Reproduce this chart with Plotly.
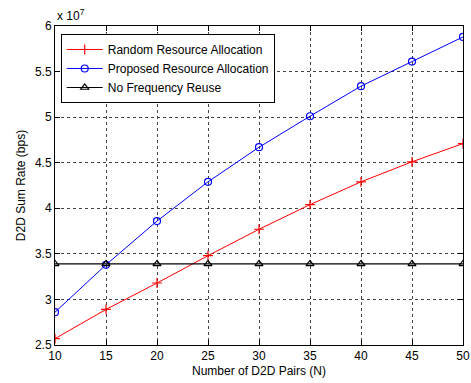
import plotly.graph_objects as go

pairs = [10, 15, 20, 25, 30, 35, 40, 45, 50]
random_alloc = [2.57, 2.89, 3.18, 3.48, 3.77, 4.04, 4.29, 4.51, 4.71]
proposed_alloc = [2.86, 3.38, 3.86, 4.29, 4.67, 5.01, 5.34, 5.61, 5.88]
no_reuse = [3.39] * 9
x_ticks = [10, 15, 20, 25, 30, 35, 40, 45, 50]
y_ticks = [2.5, 3, 3.5, 4, 4.5, 5, 5.5, 6]
y_tick_labels = ["2.5", "3", "3.5", "4", "4.5", "5", "5.5", "6"]

font = "Liberation Sans, Arial, sans-serif"
fig = go.Figure()
fig.add_trace(go.Scatter(x=pairs, y=random_alloc, mode="lines+markers", name="Random Resource Allocation",
                         line=dict(color="red", width=1),
                         marker=dict(symbol="cross-thin-open", size=7, line=dict(color="red", width=1.2))))
fig.add_trace(go.Scatter(x=pairs, y=proposed_alloc, mode="lines+markers", name="Proposed Resource Allocation",
                         line=dict(color="blue", width=1),
                         marker=dict(symbol="circle-open", size=7, color="blue", line=dict(width=1.2))))
fig.add_trace(go.Scatter(x=pairs, y=no_reuse, mode="lines+markers", name="No Frequency Reuse",
                         line=dict(color="black", width=1.2),
                         marker=dict(symbol="triangle-up-open", size=7, color="black", line=dict(width=1.2))))

axis_common = dict(showline=True, linecolor="black", linewidth=1, mirror="ticks",
                   showgrid=True, gridcolor="#444444", griddash="dot", gridwidth=1,
                   ticks="inside", ticklen=5, tickcolor="black", zeroline=False, automargin=False,
                   tickfont=dict(family=font, size=12, color="black"))
fig.update_xaxes(range=[10, 50], tickvals=x_ticks,
                 title=dict(text="Number of D2D Pairs (N)", font=dict(family=font, size=12, color="black"), standoff=4),
                 **axis_common)
fig.update_yaxes(range=[2.5, 6], tickvals=y_ticks, ticktext=y_tick_labels,
                 title=dict(text="D2D Sum Rate (bps)", font=dict(family=font, size=12, color="black"), standoff=6),
                 **axis_common)
fig.add_annotation(x=0, y=1, xref="paper", yref="paper", xanchor="left", yanchor="bottom",
                   text="x 10<sup>7</sup>", showarrow=False, yshift=1,
                   font=dict(family=font, size=12, color="black"))
fig.update_layout(width=471, height=383, margin=dict(l=55, r=8, t=26, b=38),
                  plot_bgcolor="white", paper_bgcolor="white",
                  legend=dict(x=0.014, y=0.975, xanchor="left", yanchor="top",
                              bgcolor="white", bordercolor="black", borderwidth=1,
                              font=dict(family=font, size=12, color="black"),
                              tracegroupgap=0, itemwidth=36))
fig.write_html("out.html", config={"displayModeBar": False},
               post_script="document.body.style.margin='0';document.body.style.overflow='hidden';")
